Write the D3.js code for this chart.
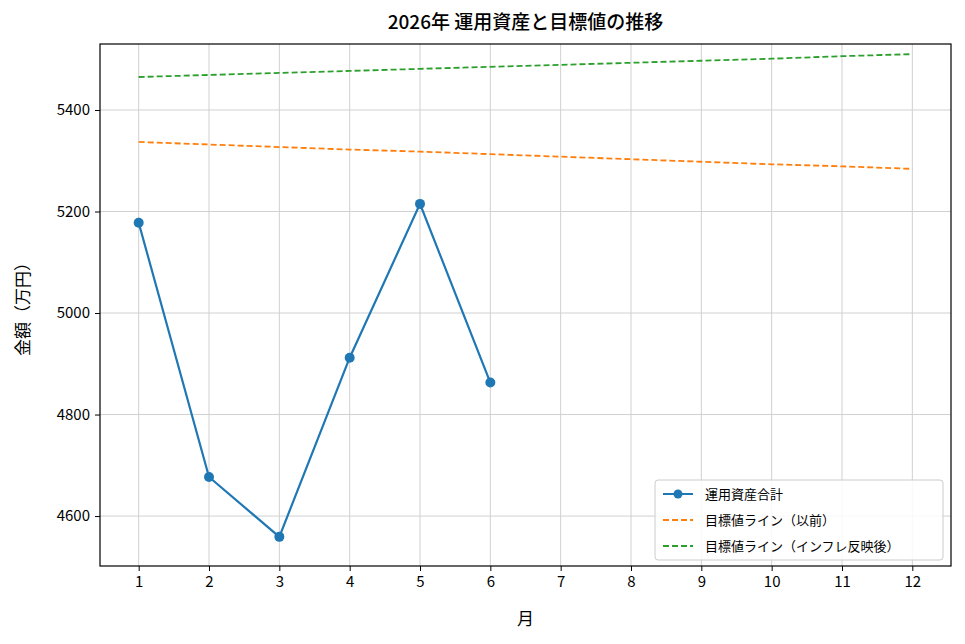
<!DOCTYPE html>
<html><head><meta charset="utf-8">
<script src="https://cdn.jsdelivr.net/npm/d3@7"></script>
<style>body{margin:0;background:#fff}text{font-family:"Noto Sans CJK JP",sans-serif}</style>
</head><body><div id="chart"></div>
<script>
let months = [1,2,3,4,5,6,7,8,9,10,11,12];
let assets = [5178, 4677, 4559, 4912, 5215, 4863];
let targetOld = [5337, 5332, 5327, 5322, 5318, 5313, 5308, 5303, 5298, 5293, 5289, 5284];
let targetInfl = [5465, 5469, 5473, 5477, 5481, 5485, 5489, 5493, 5497, 5501, 5506, 5510];
let yTicks = [4600, 4800, 5000, 5200, 5400];

let width = 965, height = 644;
let m = {left: 100, right: 14, top: 44, bottom: 78};

let svg = d3.select("#chart").append("svg")
  .attr("width", width).attr("height", height);

let x = d3.scaleLinear().domain([0.45, 12.55]).range([m.left, width - m.right]);
let y = d3.scaleLinear().domain([4501.6, 5530]).range([height - m.bottom, m.top]);

let g = svg.append("g");
// grid
g.selectAll(".gx").data(months).enter().append("line")
  .attr("x1", d => x(d)).attr("x2", d => x(d))
  .attr("y1", m.top).attr("y2", height - m.bottom)
  .attr("stroke", "#d0d0d0").attr("stroke-width", 1);
g.selectAll(".gy").data(yTicks).enter().append("line")
  .attr("y1", d => y(d)).attr("y2", d => y(d))
  .attr("x1", m.left).attr("x2", width - m.right)
  .attr("stroke", "#d0d0d0").attr("stroke-width", 1);

let line = d3.line().x((d, i) => x(months[i])).y(d => y(d));

g.append("path").datum(targetOld).attr("d", line).attr("fill", "none")
  .attr("stroke", "#ff7f0e").attr("stroke-width", 1.8).attr("stroke-dasharray", "6,3");
g.append("path").datum(targetInfl).attr("d", line).attr("fill", "none")
  .attr("stroke", "#2ca02c").attr("stroke-width", 1.8).attr("stroke-dasharray", "6,3");
g.append("path").datum(assets).attr("d", line).attr("fill", "none")
  .attr("stroke", "#1f77b4").attr("stroke-width", 2.2);
g.selectAll(".pt").data(assets).enter().append("circle")
  .attr("cx", (d, i) => x(months[i])).attr("cy", d => y(d)).attr("r", 5)
  .attr("fill", "#1f77b4");

// axes
let xa = svg.append("g").attr("transform", `translate(0,${height - m.bottom})`)
  .call(d3.axisBottom(x).tickValues(months).tickSizeOuter(0).tickSize(5).tickPadding(5));
let ya = svg.append("g").attr("transform", `translate(${m.left},0)`)
  .call(d3.axisLeft(y).tickValues(yTicks).tickFormat(d3.format("d")).tickSizeOuter(0).tickSize(5).tickPadding(5));
[xa, ya].forEach(a => {
  a.selectAll("text").style("font-size", "15px").attr("fill", "#000");
  a.selectAll("line").attr("stroke", "#000");
  a.select(".domain").remove();
});
svg.append("rect").attr("x", m.left).attr("y", m.top)
  .attr("width", width - m.right - m.left).attr("height", height - m.bottom - m.top)
  .attr("fill", "none").attr("stroke", "#000").attr("stroke-width", 1.2);

svg.append("text").attr("x", (m.left + width - m.right) / 2).attr("y", 29)
  .attr("text-anchor", "middle").style("font-size", "19px").attr("font-weight", 500).text("2026年 運用資産と目標値の推移");
svg.append("text").attr("x", (m.left + width - m.right) / 2).attr("y", 625)
  .attr("text-anchor", "middle").style("font-size", "17px").text("月");
svg.append("text").attr("transform", `translate(29,${(m.top + height - m.bottom) / 2}) rotate(-90)`)
  .attr("text-anchor", "middle").style("font-size", "17px").text("金額（万円）");

// legend
let lg = svg.append("g").attr("transform", "translate(655,480)");
lg.append("rect").attr("width", 288).attr("height", 80).attr("rx", 3)
  .attr("fill", "#fff").attr("fill-opacity", 0.85).attr("stroke", "#ccc");
let items = [
  {name: "運用資産合計", color: "#1f77b4", dash: null, dot: true},
  {name: "目標値ライン（以前）", color: "#ff7f0e", dash: "6,3"},
  {name: "目標値ライン（インフレ反映後）", color: "#2ca02c", dash: "6,3"}
];
items.forEach((it, i) => {
  let yy = 14 + i * 26;
  lg.append("line").attr("x1", 8).attr("x2", 38).attr("y1", yy).attr("y2", yy)
    .attr("stroke", it.color).attr("stroke-width", 2).attr("stroke-dasharray", it.dash);
  if (it.dot) lg.append("circle").attr("cx", 23).attr("cy", yy).attr("r", 4.5).attr("fill", it.color);
  lg.append("text").attr("x", 50).attr("y", yy + 5).style("font-size", "13px").text(it.name);
});
</script></body></html>
